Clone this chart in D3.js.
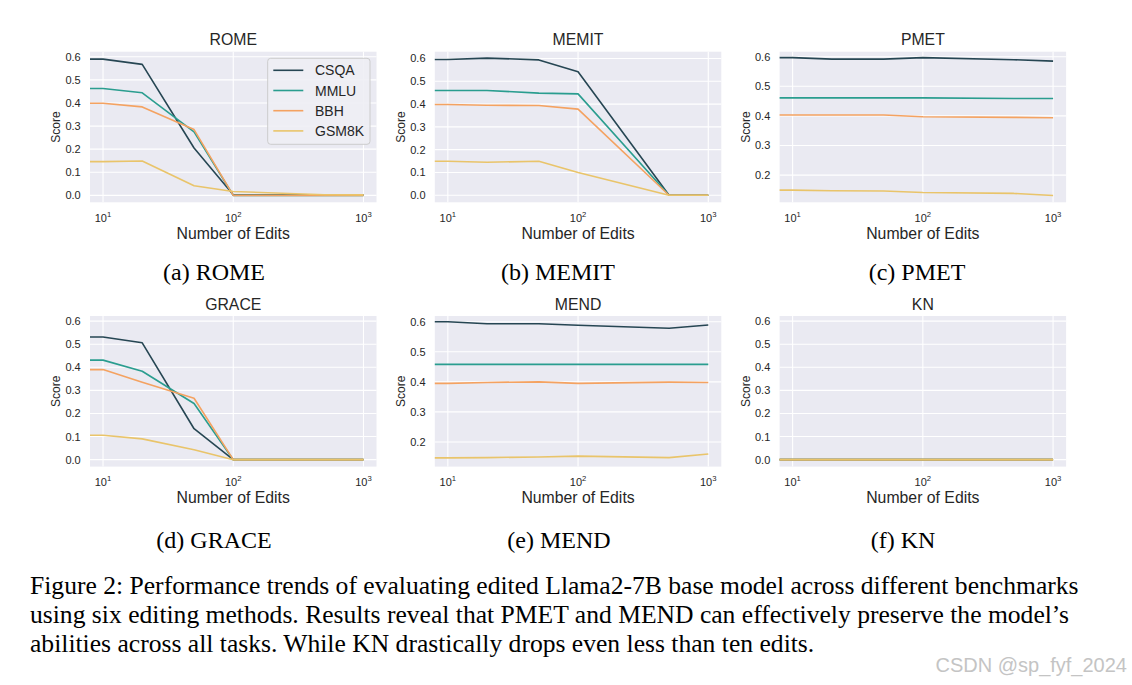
<!DOCTYPE html>
<html>
<head>
<meta charset="utf-8">
<script src="https://cdn.jsdelivr.net/npm/d3@7"></script>
<style>
  html, body { margin: 0; padding: 0; background: #ffffff; }
  svg { display: block; }
</style>
</head>
<body>
<svg id="chart" width="1132" height="685"></svg>
<script>
// ---------------- DATA ----------------
const edits = [10, 20, 50, 100, 500, 1000];
const benchmarks = ["CSQA", "MMLU", "BBH", "GSM8K"];
const colors = ["#264653", "#2a9d8f", "#f4a261", "#e9c46a"];
const methods = ["ROME", "MEMIT", "PMET", "GRACE", "MEND", "KN"];
const subcaptions = ["(a) ROME", "(b) MEMIT", "(c) PMET", "(d) GRACE", "(e) MEND", "(f) KN"];

const romeCSQA  = [0.590, 0.567, 0.205, 0.003, 0.003, 0.002];
const romeMMLU  = [0.463, 0.444, 0.275, 0.000, 0.000, 0.000];
const romeBBH   = [0.399, 0.383, 0.285, 0.000, 0.000, 0.000];
const romeGSM8K = [0.146, 0.149, 0.042, 0.017, 0.003, 0.002];

const memitCSQA  = [0.596, 0.602, 0.594, 0.542, 0.000, 0.000];
const memitMMLU  = [0.460, 0.460, 0.448, 0.445, 0.000, 0.000];
const memitBBH   = [0.398, 0.395, 0.394, 0.378, 0.000, 0.000];
const memitGSM8K = [0.149, 0.145, 0.149, 0.100, 0.000, 0.000];

const pmetCSQA  = [0.597, 0.592, 0.592, 0.597, 0.590, 0.585];
const pmetMMLU  = [0.461, 0.461, 0.461, 0.461, 0.459, 0.459];
const pmetBBH   = [0.403, 0.403, 0.403, 0.397, 0.395, 0.394];
const pmetGSM8K = [0.149, 0.147, 0.146, 0.141, 0.138, 0.131];

const graceCSQA  = [0.531, 0.506, 0.134, 0.000, 0.000, 0.000];
const graceMMLU  = [0.431, 0.383, 0.243, 0.000, 0.000, 0.000];
const graceBBH   = [0.390, 0.335, 0.266, 0.000, 0.000, 0.000];
const graceGSM8K = [0.106, 0.090, 0.043, 0.000, 0.000, 0.000];

const mendCSQA  = [0.600, 0.593, 0.593, 0.588, 0.578, 0.589];
const mendMMLU  = [0.458, 0.458, 0.458, 0.458, 0.458, 0.458];
const mendBBH   = [0.395, 0.398, 0.400, 0.395, 0.399, 0.398];
const mendGSM8K = [0.147, 0.148, 0.150, 0.153, 0.148, 0.160];

const knCSQA  = [0, 0, 0, 0, 0, 0];
const knMMLU  = [0, 0, 0, 0, 0, 0];
const knBBH   = [0, 0, 0, 0, 0, 0];
const knGSM8K = [0, 0, 0, 0, 0, 0];

const seriesByMethod = [
  [romeCSQA, romeMMLU, romeBBH, romeGSM8K],
  [memitCSQA, memitMMLU, memitBBH, memitGSM8K],
  [pmetCSQA, pmetMMLU, pmetBBH, pmetGSM8K],
  [graceCSQA, graceMMLU, graceBBH, graceGSM8K],
  [mendCSQA, mendMMLU, mendBBH, mendGSM8K],
  [knCSQA, knMMLU, knBBH, knGSM8K]
];

const yDomains = [
  [-0.030, 0.622], [-0.031, 0.630], [0.108, 0.617],
  [-0.030, 0.622], [0.118, 0.619], [-0.030, 0.622]
];
const yTicksFull = [0, 0.1, 0.2, 0.3, 0.4, 0.5, 0.6];
const yTicksHigh = [0.2, 0.3, 0.4, 0.5, 0.6];
const yTickSets = [yTicksFull, yTicksFull, yTicksHigh, yTicksFull, yTicksHigh, yTicksFull];
const xTicks = [10, 100, 1000];
const xDomain = [Math.pow(10, 0.9), Math.pow(10, 3.1)];

const captionLines = [
  "Figure 2: Performance trends of evaluating edited Llama2-7B base model across different benchmarks",
  "using six editing methods. Results reveal that PMET and MEND can effectively preserve the model\u2019s",
  "abilities across all tasks. While KN drastically drops even less than ten edits."
];
const watermark = "CSDN @sp_fyf_2024";

// ---------------- LAYOUT ----------------
const colLeft = [90, 434.8, 779.6];
const rowTop = [51.7, 316];
const plotW = 286.5, plotH = 150.6;
const subcapX = [214, 558, 917, 214, 559, 903];
const subcapY = [280, 548];

const svg = d3.select("#chart");
const sans = "'Liberation Sans', Arial, 'DejaVu Sans', sans-serif";
const serif = "'Liberation Serif', 'Times New Roman', serif";
const textColor = "#262626";

methods.forEach((m, i) => {
  const col = i % 3, row = Math.floor(i / 3);
  const left = colLeft[col], top = rowTop[row];
  const g = svg.append("g").attr("transform", `translate(${left},${top})`);

  const x = d3.scaleLog().domain(xDomain).range([0, plotW]);
  const y = d3.scaleLinear().domain(yDomains[i]).range([plotH, 0]);

  g.append("rect").attr("width", plotW).attr("height", plotH).attr("fill", "#EAEAF2");

  // grid
  g.selectAll(".gy").data(yTickSets[i]).enter().append("line")
    .attr("x1", 0).attr("x2", plotW)
    .attr("y1", d => y(d)).attr("y2", d => y(d))
    .attr("stroke", "#ffffff").attr("stroke-width", 1.1);
  g.selectAll(".gx").data(xTicks).enter().append("line")
    .attr("y1", 0).attr("y2", plotH)
    .attr("x1", d => x(d)).attr("x2", d => x(d))
    .attr("stroke", "#ffffff").attr("stroke-width", 1.1);

  const line = d3.line().x(d => x(d[0])).y(d => y(d[1]));
  seriesByMethod[i].forEach((vals, k) => {
    const pts = [[xDomain[0], vals[0]]].concat(edits.map((e, j) => [e, vals[j]]));
    g.append("path").datum(pts)
      .attr("d", line)
      .attr("fill", "none")
      .attr("stroke", colors[k])
      .attr("stroke-width", 1.6)
      .attr("stroke-linejoin", "round");
  });

  // y tick labels
  g.selectAll(".yl").data(yTickSets[i]).enter().append("text")
    .attr("x", -9.3).attr("y", d => y(d)).attr("dy", "0.36em")
    .attr("text-anchor", "end")
    .attr("font-family", sans).attr("font-size", 11).attr("fill", textColor)
    .text(d => d3.format(".1f")(d));

  // x tick labels (10^n)
  xTicks.forEach(t => {
    const tx = g.append("text")
      .attr("x", x(t)).attr("y", plotH + 19.3)
      .attr("text-anchor", "middle")
      .attr("font-family", sans).attr("font-size", 11).attr("fill", textColor);
    tx.append("tspan").text("10");
    tx.append("tspan").attr("font-size", 7.7).attr("dy", -5).text(String(Math.round(Math.log10(t))));
  });

  // title
  g.append("text").attr("x", plotW / 2).attr("y", -6.3)
    .attr("text-anchor", "middle")
    .attr("font-family", sans).attr("font-size", 15.8).attr("fill", textColor)
    .text(m);

  // x label
  g.append("text").attr("x", plotW / 2).attr("y", plotH + 36.7)
    .attr("text-anchor", "middle")
    .attr("font-family", sans).attr("font-size", 15.8).attr("fill", textColor)
    .text("Number of Edits");

  // y label
  g.append("text")
    .attr("transform", `translate(-29.7,${plotH / 2}) rotate(-90)`)
    .attr("text-anchor", "middle")
    .attr("font-family", sans).attr("font-size", 12).attr("fill", textColor)
    .text("Score");

  // legend only on first panel
  if (i === 0) {
    const lg = g.append("g").attr("transform", `translate(${plotW - 108.8},6.6)`);
    lg.append("rect").attr("width", 102.3).attr("height", 86)
      .attr("rx", 3).attr("ry", 3)
      .attr("fill", "#EEEEF4").attr("fill-opacity", 0.9)
      .attr("stroke", "#cccccc").attr("stroke-width", 1);
    benchmarks.forEach((b, k) => {
      const cy = 12 + k * 20.2;
      lg.append("line").attr("x1", 5.6).attr("x2", 35.6)
        .attr("y1", cy).attr("y2", cy)
        .attr("stroke", colors[k]).attr("stroke-width", 1.6);
      lg.append("text").attr("x", 47.3).attr("y", cy).attr("dy", "0.36em")
        .attr("font-family", sans).attr("font-size", 14).attr("fill", textColor)
        .text(b);
    });
  }

  // subcaption
  svg.append("text").attr("x", subcapX[i]).attr("y", subcapY[row])
    .attr("text-anchor", "middle")
    .attr("font-family", serif).attr("font-size", 24).attr("fill", "#000")
    .text(subcaptions[i]);
});

// caption
captionLines.forEach((t, k) => {
  svg.append("text").attr("x", 30).attr("y", 594 + k * 29)
    .attr("font-family", serif).attr("font-size", 25.6).attr("fill", "#000")
    .text(t);
});

svg.append("text").attr("x", 1127).attr("y", 672)
  .attr("text-anchor", "end")
  .attr("font-family", sans).attr("font-size", 20).attr("fill", "#c4c4c4")
  .text(watermark);
</script>
</body>
</html>
